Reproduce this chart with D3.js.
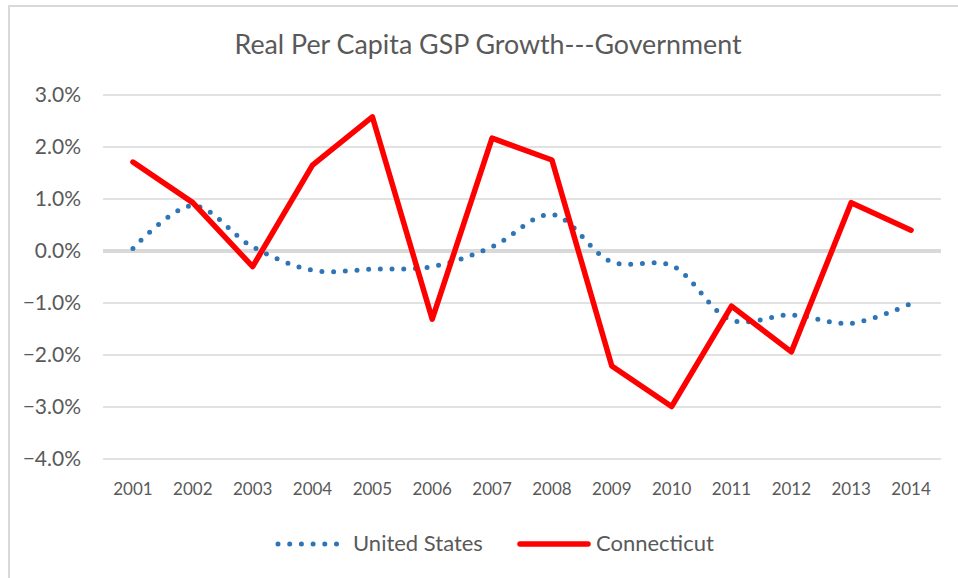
<!DOCTYPE html>
<html>
<head>
<meta charset="utf-8">
<script src="https://cdn.jsdelivr.net/npm/d3@7"></script>
<style>
  html, body { margin: 0; padding: 0; background: #fff; }
  svg { display: block; font-family: Lato, "Open Sans", sans-serif; }
</style>
</head>
<body>
<div id="chart"></div>
<script>
// chart data
const years = ['2001','2002','2003','2004','2005','2006','2007','2008','2009','2010','2011','2012','2013','2014'];
const usGrowth = [0.05, 0.87, 0.08, -0.37, -0.35, -0.30, 0.08, 0.70, -0.21, -0.28, -1.33, -1.23, -1.39, -1.01];
const ctGrowth = [1.71, 0.93, -0.30, 1.65, 2.58, -1.31, 2.17, 1.75, -2.21, -2.99, -1.06, -1.94, 0.93, 0.40];
const yTicks = [3, 2, 1, 0, -1, -2, -3, -4];
const seriesNames = ['United States', 'Connecticut'];

const width = 958, height = 578;
const textColor = '#595959';

const svg = d3.select('#chart').append('svg')
  .attr('width', width)
  .attr('height', height);

// chart border (top + left only visible)
svg.append('line').attr('x1', 8).attr('x2', width).attr('y1', 6).attr('y2', 6)
  .attr('stroke', '#d9d9d9').attr('stroke-width', 2);
svg.append('line').attr('x1', 9).attr('x2', 9).attr('y1', 6).attr('y2', height)
  .attr('stroke', '#d9d9d9').attr('stroke-width', 2);

// title
svg.append('text')
  .attr('x', 488).attr('y', 54)
  .attr('text-anchor', 'middle')
  .attr('fill', textColor)
  .style('font-size', '26.8px')
  .text('Real Per Capita GSP Growth---Government');

// scales
const x = d3.scaleBand()
  .domain(years)
  .range([103, 941]);

const y = d3.scaleLinear()
  .domain([-4, 3])
  .range([459, 95]);

const cx = d => x(d) + x.bandwidth() / 2;

// gridlines
svg.append('g')
  .selectAll('line')
  .data(yTicks)
  .enter().append('line')
    .attr('x1', 103).attr('x2', 941)
    .attr('y1', d => y(d)).attr('y2', d => y(d))
    .attr('stroke', '#d9d9d9')
    .attr('stroke-width', d => d === 0 ? 4 : 1.5);

// y axis labels
const yAxis = svg.append('g')
  .attr('transform', 'translate(81,0)')
  .call(d3.axisLeft(y).tickValues(yTicks).tickSize(0).tickPadding(0)
    .tickFormat(d => d3.format('.1f')(d) + '%'));
yAxis.select('.domain').remove();
yAxis.selectAll('text')
  .attr('fill', textColor)
  .style('font-size', '21px')
  .style('font-family', 'Lato, sans-serif');

// x axis labels
const xAxis = svg.append('g')
  .attr('transform', 'translate(0,459)')
  .call(d3.axisBottom(x).tickSize(0).tickPadding(24));
xAxis.select('.domain').remove();
xAxis.selectAll('text')
  .attr('fill', textColor)
  .style('font-size', '17px')
  .style('font-family', 'Lato, sans-serif');

// lines
const usLine = d3.line()
  .x((d, i) => cx(years[i]))
  .y(d => y(d))
  .curve(d3.curveCatmullRom.alpha(0.5));

const ctLine = d3.line()
  .x((d, i) => cx(years[i]))
  .y(d => y(d));

svg.append('path')
  .datum(usGrowth)
  .attr('d', usLine)
  .attr('fill', 'none')
  .attr('stroke', '#2e75b6')
  .attr('stroke-width', 5)
  .attr('stroke-linecap', 'round')
  .attr('stroke-dasharray', '0 11.7');

svg.append('path')
  .datum(ctGrowth)
  .attr('d', ctLine)
  .attr('fill', 'none')
  .attr('stroke', '#ff0000')
  .attr('stroke-width', 5.5)
  .attr('stroke-linejoin', 'round')
  .attr('stroke-linecap', 'round');

// legend
const legend = svg.append('g');
legend.append('line')
  .attr('x1', 278).attr('x2', 337).attr('y1', 544).attr('y2', 544)
  .attr('stroke', '#2e75b6').attr('stroke-width', 5)
  .attr('stroke-linecap', 'round').attr('stroke-dasharray', '0 11.7');
legend.append('text')
  .attr('x', 353).attr('y', 551)
  .attr('fill', textColor).style('font-size', '22px')
  .text(seriesNames[0]);
legend.append('line')
  .attr('x1', 520).attr('x2', 588).attr('y1', 544).attr('y2', 544)
  .attr('stroke', '#ff0000').attr('stroke-width', 5.5)
  .attr('stroke-linecap', 'round');
legend.append('text')
  .attr('x', 596).attr('y', 551)
  .attr('fill', textColor).style('font-size', '22px')
  .text(seriesNames[1]);
</script>
</body>
</html>
